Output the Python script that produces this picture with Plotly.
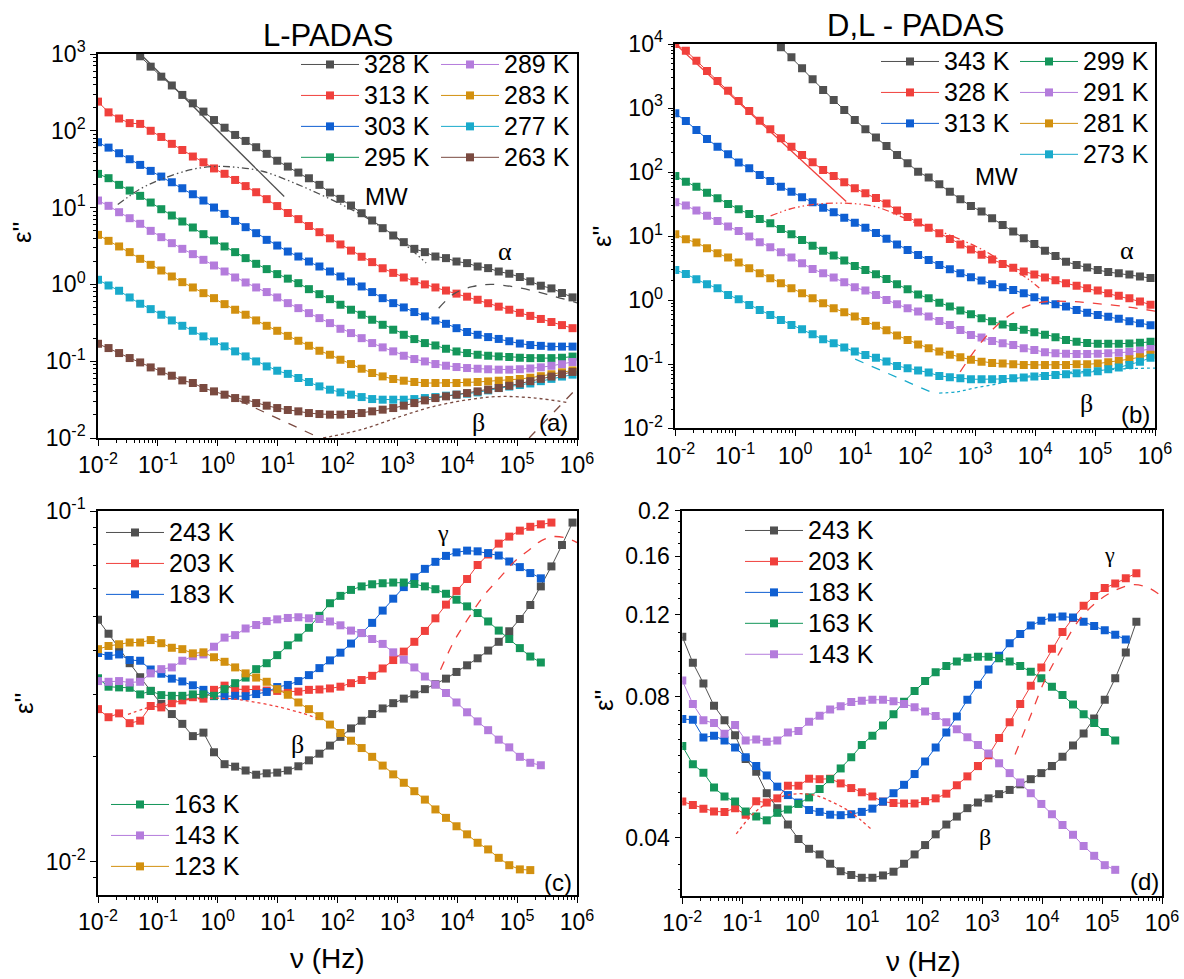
import plotly.graph_objects as go

W, H = 1184, 979
FONT = "Liberation Sans, Arial, sans-serif"
SERIF = "Liberation Serif, Times New Roman, serif"

# measurement frequencies (Hz)
FREQ = [0.01, 0.015, 0.0225, 0.0338, 0.0506, 0.0759, 0.114, 0.171, 0.256, 0.384,
        0.577, 0.865, 1.30, 1.95, 2.92, 4.38, 6.57, 9.85, 14.8, 22.2,
        33.3, 49.9, 74.8, 112, 168, 253, 379, 568, 852, 1280,
        1920, 2880, 4320, 6480, 9720, 14600, 21900, 32800, 49300, 73900,
        111000, 166000, 249000, 374000, 561000, 842000]

# ---------------- panel (a) L-PADAS : log10(eps'') ----------------
A_328 = [None] * 4 + [2.97, 2.835, 2.705, 2.59, 2.467, 2.358, 2.25, 2.14, 2.04, 1.946,
                      1.868, 1.786, 1.70, 1.61, 1.534, 1.456, 1.382, 1.296, 1.196, 1.114,
                      1.027, 0.927, 0.832, 0.732, 0.637, 0.55, 0.463, 0.42, 0.363, 0.342,
                      0.298, 0.277, 0.233, 0.212, 0.168, 0.139, 0.096, 0.04, -0.017, -0.052,
                      -0.112, -0.169]
A_313 = [2.38, 2.24, 2.16, 2.10, 2.09, 2.00, 1.92, 1.83, 1.75, 1.665,
         1.59, 1.51, 1.44, 1.36, 1.28, 1.20, 1.11, 1.02, 0.93, 0.85,
         0.76, 0.68, 0.60, 0.52, 0.44, 0.36, 0.29, 0.21, 0.15, 0.09,
         0.04, 0.0, -0.04, -0.08, -0.12, -0.16, -0.2, -0.245, -0.29, -0.33,
         -0.37, -0.41, -0.45, -0.49, -0.53, -0.57]
A_303 = [1.851, 1.781, 1.708, 1.63, 1.556, 1.478, 1.404, 1.33, 1.252, 1.174,
         1.092, 1.001, 0.918, 0.827, 0.745, 0.667, 0.58, 0.506, 0.428, 0.363,
         0.298, 0.233, 0.168, 0.103, 0.038, -0.027, -0.1, -0.179, -0.244, -0.30,
         -0.36, -0.417, -0.47, -0.513, -0.57, -0.62, -0.656, -0.686, -0.71, -0.74,
         -0.77, -0.79, -0.80, -0.81, -0.81, -0.81]
A_295 = [1.439, 1.383, 1.296, 1.222, 1.153, 1.066, 0.979, 0.897, 0.819, 0.741,
         0.654, 0.572, 0.494, 0.42, 0.342, 0.268, 0.199, 0.134, 0.075, 0.016,
         -0.062, -0.127, -0.192, -0.265, -0.33, -0.395, -0.46, -0.526, -0.59, -0.656,
         -0.712, -0.764, -0.795, -0.838, -0.873, -0.894, -0.916, -0.929, -0.938, -0.945,
         -0.955, -0.96, -0.96, -0.96, -0.955, -0.94]
A_289 = [1.092, 1.023, 0.94, 0.862, 0.789, 0.697, 0.615, 0.537, 0.463, 0.394,
         0.32, 0.246, 0.168, 0.09, 0.025, -0.04, -0.1, -0.17, -0.244, -0.309,
         -0.374, -0.439, -0.504, -0.578, -0.634, -0.7, -0.764, -0.82, -0.872, -0.929,
         -0.972, -1.003, -1.037, -1.059, -1.076, -1.089, -1.098, -1.105, -1.11, -1.11,
         -1.105, -1.095, -1.08, -1.06, -1.04, -1.01]
A_283 = [0.645, 0.567, 0.494, 0.42, 0.333, 0.255, 0.181, 0.103, 0.029, -0.04,
         -0.114, -0.179, -0.257, -0.33, -0.395, -0.469, -0.539, -0.604, -0.67, -0.734,
         -0.799, -0.864, -0.916, -0.981, -1.037, -1.098, -1.154, -1.198, -1.232, -1.254,
         -1.271, -1.284, -1.284, -1.284, -1.284, -1.276, -1.271, -1.263, -1.254, -1.245,
         -1.232, -1.215, -1.195, -1.17, -1.145, -1.12]
A_277 = [0.06, -0.014, -0.083, -0.17, -0.252, -0.322, -0.395, -0.469, -0.539, -0.604,
         -0.677, -0.742, -0.807, -0.872, -0.938, -1.003, -1.068, -1.124, -1.165, -1.219,
         -1.271, -1.328, -1.371, -1.406, -1.436, -1.467, -1.493, -1.501, -1.501, -1.501,
         -1.493, -1.48, -1.467, -1.449, -1.436, -1.423, -1.406, -1.38, -1.35, -1.33,
         -1.31, -1.29, -1.26, -1.23, -1.2, -1.175]
A_263 = [-0.773, -0.829, -0.894, -0.959, -1.016, -1.081, -1.133, -1.189, -1.25, -1.284,
         -1.349, -1.393, -1.436, -1.48, -1.501, -1.545, -1.579, -1.61, -1.635, -1.653,
         -1.675, -1.688, -1.696, -1.696, -1.688, -1.675, -1.653, -1.631, -1.61, -1.579,
         -1.545, -1.51, -1.48, -1.458, -1.436, -1.415, -1.393, -1.371, -1.349, -1.32,
         -1.29, -1.26, -1.23, -1.20, -1.17, -1.14]

# ---------------- panel (b) D,L-PADAS ----------------
B_343 = [None] * 10 + [3.948, 3.792, 3.62, 3.448, 3.282, 3.126, 2.97, 2.814, 2.668, 2.54,
                       2.408, 2.267, 2.137, 2.007, 1.914, 1.81, 1.695, 1.575, 1.471, 1.383,
                       1.279, 1.175, 1.071, 0.967, 0.878, 0.774, 0.691, 0.602, 0.55, 0.509,
                       0.47, 0.44, 0.42, 0.40, 0.37, 0.345]
B_328 = [4.0, 3.896, 3.74, 3.579, 3.422, 3.272, 3.11, 2.954, 2.803, 2.668,
         2.528, 2.397, 2.267, 2.153, 2.033, 1.94, 1.841, 1.747, 1.669, 1.595,
         1.51, 1.40, 1.30, 1.215, 1.13, 1.045, 0.955, 0.87, 0.79, 0.71,
         0.635, 0.565, 0.505, 0.45, 0.40, 0.355, 0.31, 0.265, 0.225, 0.185,
         0.15, 0.11, 0.07, 0.03, -0.02, -0.07]
B_313 = [2.918, 2.798, 2.658, 2.517, 2.397, 2.278, 2.148, 2.059, 1.955, 1.862,
         1.773, 1.695, 1.607, 1.529, 1.445, 1.373, 1.289, 1.211, 1.133, 1.05,
         0.96, 0.87, 0.785, 0.707, 0.628, 0.55, 0.483, 0.42, 0.358, 0.306,
         0.249, 0.202, 0.16, 0.108, 0.046, -0.006, -0.063, -0.1, -0.152, -0.194,
         -0.23, -0.26, -0.29, -0.33, -0.36, -0.39]
B_299 = [1.94, 1.851, 1.773, 1.679, 1.591, 1.503, 1.419, 1.347, 1.268, 1.201,
         1.112, 1.029, 0.941, 0.852, 0.774, 0.696, 0.618, 0.535, 0.472, 0.405,
         0.33, 0.25, 0.17, 0.09, 0.03, -0.04, -0.10, -0.16, -0.22, -0.28,
         -0.33, -0.38, -0.42, -0.46, -0.50, -0.54, -0.58, -0.62, -0.65, -0.67,
         -0.68, -0.68, -0.68, -0.675, -0.665, -0.65]
B_291 = [1.529, 1.477, 1.399, 1.32, 1.237, 1.149, 1.081, 0.993, 0.904, 0.826,
         0.748, 0.665, 0.576, 0.488, 0.42, 0.353, 0.28, 0.202, 0.15, 0.08,
         0.004, -0.063, -0.126, -0.178, -0.256, -0.324, -0.386, -0.464, -0.542, -0.584,
         -0.636, -0.672, -0.698, -0.75, -0.776, -0.813, -0.828, -0.835, -0.839, -0.839,
         -0.835, -0.83, -0.82, -0.81, -0.79, -0.76]
B_281 = [1.029, 0.951, 0.899, 0.811, 0.733, 0.665, 0.587, 0.498, 0.42, 0.342,
         0.264, 0.186, 0.108, 0.03, -0.048, -0.126, -0.188, -0.256, -0.324, -0.40,
         -0.47, -0.55, -0.62, -0.69, -0.75, -0.80, -0.85, -0.89, -0.93, -0.96,
         -0.98, -0.99, -1.0, -1.01, -1.01, -1.01, -1.01, -1.01, -1.0, -1.0,
         -0.99, -0.97, -0.95, -0.92, -0.89, -0.85]
B_273 = [0.472, 0.41, 0.327, 0.249, 0.186, 0.082, 0.015, -0.074, -0.152, -0.23,
         -0.308, -0.386, -0.454, -0.532, -0.61, -0.672, -0.74, -0.802, -0.854, -0.90,
         -0.958, -1.026, -1.062, -1.099, -1.13, -1.182, -1.203, -1.219, -1.234, -1.234,
         -1.234, -1.23, -1.22, -1.205, -1.193, -1.182, -1.167, -1.156, -1.14, -1.13,
         -1.11, -1.08, -1.05, -1.01, -0.96, -0.90]

# ---------------- panel (c) L-PADAS low T ----------------
C_243 = [-1.31, -1.35, -1.391, -1.434, -1.474, -1.513, -1.55, -1.579, -1.607, -1.642,
         -1.632, -1.688, -1.722, -1.729, -1.74, -1.752, -1.748, -1.746, -1.74, -1.728,
         -1.711, -1.692, -1.669, -1.644, -1.62, -1.598, -1.579, -1.563, -1.548, -1.535,
         -1.523, -1.508, -1.494, -1.478, -1.459, -1.44, -1.42, -1.398, -1.373, -1.343,
         -1.308, -1.268, -1.215, -1.158, -1.097, -1.033]
C_203 = [-1.565, -1.588, -1.577, -1.605, -1.598, -1.556, -1.56, -1.548, -1.54, -1.531,
         -1.535, -1.51, -1.498, -1.508, -1.509, -1.509, -1.512, -1.513, -1.515, -1.515,
         -1.51, -1.509, -1.506, -1.501, -1.491, -1.482, -1.47, -1.449, -1.425, -1.401,
         -1.373, -1.342, -1.306, -1.267, -1.228, -1.194, -1.154, -1.124, -1.093, -1.073,
         -1.056, -1.045, -1.038, -1.033, None, None]
C_183 = [-1.405, -1.413, -1.409, -1.425, -1.427, -1.452, -1.464, -1.478, -1.486, -1.497,
         -1.51, -1.528, -1.528, -1.527, -1.528, -1.522, -1.516, -1.502, -1.496, -1.485,
         -1.468, -1.448, -1.426, -1.404, -1.378, -1.348, -1.319, -1.284, -1.25, -1.217,
         -1.189, -1.165, -1.145, -1.128, -1.118, -1.113, -1.115, -1.12, -1.127, -1.144,
         -1.16, -1.177, -1.192, None, None, None]
C_163 = [-1.477, -1.501, -1.503, -1.504, -1.523, -1.513, -1.525, -1.527, -1.527, -1.523,
         -1.523, -1.527, -1.508, -1.491, -1.475, -1.451, -1.434, -1.411, -1.383, -1.361,
         -1.333, -1.299, -1.263, -1.242, -1.225, -1.215, -1.209, -1.206, -1.204, -1.204,
         -1.208, -1.215, -1.223, -1.236, -1.253, -1.272, -1.291, -1.315, -1.341, -1.365,
         -1.391, -1.415, -1.432, None, None, None]
C_143 = [-1.485, -1.487, -1.485, -1.489, -1.487, -1.463, -1.451, -1.446, -1.427, -1.414,
         -1.409, -1.387, -1.361, -1.354, -1.335, -1.325, -1.314, -1.309, -1.305, -1.303,
         -1.306, -1.308, -1.315, -1.326, -1.341, -1.348, -1.365, -1.379, -1.403, -1.424,
         -1.446, -1.472, -1.495, -1.519, -1.546, -1.574, -1.6, -1.625, -1.652, -1.674,
         -1.701, -1.718, -1.725, None, None, None]
C_123 = [-1.394, -1.385, -1.38, -1.375, -1.375, -1.368, -1.377, -1.39, -1.394, -1.406,
         -1.403, -1.417, -1.43, -1.446, -1.463, -1.475, -1.487, -1.508, -1.524, -1.546,
         -1.565, -1.585, -1.609, -1.633, -1.655, -1.676, -1.701, -1.726, -1.751, -1.775,
         -1.799, -1.823, -1.851, -1.875, -1.899, -1.922, -1.946, -1.965, -1.989, -2.01,
         -2.022, -2.024, None, None, None, None]

# ---------------- panel (d) D,L-PADAS low T ----------------
D_243 = [-0.968, -1.024, -1.068, -1.116, -1.147, -1.179, -1.23, -1.257, -1.303, -1.335,
         -1.37, -1.401, -1.422, -1.434, -1.454, -1.47, -1.478, -1.484, -1.484, -1.479,
         -1.471, -1.454, -1.434, -1.414, -1.391, -1.37, -1.353, -1.335, -1.323, -1.314,
         -1.305, -1.296, -1.284, -1.273, -1.26, -1.245, -1.225, -1.201, -1.175, -1.143,
         -1.103, -1.057, -1.002, -0.936, None, None]
D_203 = [-1.321, -1.328, -1.336, -1.342, -1.343, -1.335, -1.349, -1.32, -1.323, -1.314,
         -1.287, -1.287, -1.272, -1.273, -1.272, -1.282, -1.292, -1.301, -1.31, -1.321,
         -1.324, -1.325, -1.325, -1.32, -1.314, -1.304, -1.286, -1.267, -1.245, -1.222,
         -1.185, -1.151, -1.112, -1.073, -1.034, -0.994, -0.958, -0.928, -0.902, -0.881,
         -0.864, -0.854, -0.843, -0.832, None, None]
D_183 = [-1.144, -1.146, -1.184, -1.18, -1.19, -1.205, -1.226, -1.245, -1.265, -1.289,
         -1.307, -1.323, -1.339, -1.343, -1.349, -1.35, -1.348, -1.343, -1.336, -1.321,
         -1.303, -1.285, -1.262, -1.235, -1.205, -1.173, -1.139, -1.103, -1.071, -1.038,
         -1.009, -0.982, -0.962, -0.944, -0.934, -0.927, -0.925, -0.927, -0.936, -0.945,
         -0.954, -0.964, -0.974, None, None, None]
D_163 = [-1.202, -1.241, -1.259, -1.291, -1.31, -1.321, -1.342, -1.353, -1.361, -1.345,
         -1.338, -1.326, -1.312, -1.294, -1.273, -1.25, -1.226, -1.2, -1.18, -1.158,
         -1.134, -1.107, -1.084, -1.063, -1.044, -1.031, -1.021, -1.013, -1.011, -1.011,
         -1.014, -1.021, -1.031, -1.043, -1.057, -1.075, -1.093, -1.113, -1.134, -1.153,
         -1.172, -1.19, None, None, None, None]
D_143 = [-1.062, -1.112, -1.147, -1.153, -1.176, -1.157, -1.19, -1.188, -1.193, -1.19,
         -1.173, -1.17, -1.15, -1.137, -1.124, -1.117, -1.108, -1.105, -1.103, -1.103,
         -1.106, -1.112, -1.119, -1.128, -1.138, -1.151, -1.166, -1.183, -1.2, -1.218,
         -1.239, -1.26, -1.28, -1.303, -1.326, -1.348, -1.371, -1.392, -1.416, -1.437,
         -1.457, -1.467, None, None, None, None]

# ---------------- fit curves (log10 f, log10 eps'') ----------------
FA_LINE_F, FA_LINE_E = [-1.28, 1.11], [2.99, 1.145]
FA_MW_F = [-1.67, -1.3, -0.97, -0.47, -0.08, 0.31, 0.76, 1.26, 1.8, 2.4, 3.0, 3.48]
FA_MW_E = [1.04, 1.24, 1.36, 1.49, 1.534, 1.525, 1.47, 1.326, 1.14, 0.905, 0.60, 0.28]
FA_AL_F = [3.69, 3.95, 4.25, 4.56, 5.0, 5.5, 6.0]
FA_AL_E = [-0.31, -0.12, -0.03, 0.0, -0.04, -0.13, -0.24]
FA_CD_F, FA_CD_E = [0.09, 1.72], [-1.415, -2.005]
FA_BE_F = [1.76, 2.4, 3.05, 3.6, 4.2, 4.7, 5.3, 5.85]
FA_BE_E = [-2.0, -1.89, -1.72, -1.59, -1.5, -1.46, -1.48, -1.54]
FA_GA_F, FA_GA_E = [5.2, 6.0], [-2.0, -1.35]

FB_LINE_F, FB_LINE_E = [-2.0, 0.85], [4.0, 1.54]
FB_MW_F = [-0.41, -0.1, 0.32, 0.8, 1.34, 1.96, 2.62, 3.18, 3.57, 3.9, 4.07]
FB_MW_E = [1.315, 1.42, 1.497, 1.515, 1.46, 1.227, 1.0, 0.76, 0.52, 0.32, 0.19]
FB_AL_F = [2.75, 3.0, 3.3, 3.6, 3.9, 4.2, 4.6, 5.0, 5.5, 6.0]
FB_AL_E = [-1.12, -0.78, -0.45, -0.22, -0.08, -0.02, -0.02, -0.05, -0.1, -0.17]
FB_CD_F, FB_CD_E = [1.0, 2.3], [-0.92, -1.45]
FB_BE_F = [2.4, 2.7, 3.0, 3.4, 3.8, 4.4, 5.0, 5.5, 6.0]
FB_BE_E = [-1.45, -1.43, -1.37, -1.3, -1.2, -1.14, -1.1, -1.07, -1.06]

FC_GA_F = [3.72, 3.95, 4.17, 4.45, 4.68, 4.95, 5.2, 5.4, 5.6, 5.84, 6.0]
FC_GA_E = [-1.453, -1.37, -1.31, -1.24, -1.196, -1.145, -1.111, -1.085, -1.073, -1.078, -1.09]
FC_BE_F = [-1.5, -1.25, -0.8, -0.3, 0.2, 0.55, 1.0, 1.4, 1.65]
FC_BE_E = [-1.58, -1.565, -1.545, -1.535, -1.535, -1.543, -1.558, -1.576, -1.59]

FD_GA_F = [3.55, 3.8, 4.05, 4.3, 4.6, 4.9, 5.2, 5.5, 5.75, 6.0]
FD_GA_E = [-1.22, -1.14, -1.06, -1.0, -0.935, -0.895, -0.87, -0.857, -0.862, -0.882]
FD_BE_F = [-1.1, -0.8, -0.5, -0.15, 0.2, 0.5, 0.8, 1.15]
FD_BE_E = [-1.39, -1.345, -1.318, -1.305, -1.307, -1.322, -1.343, -1.38]

GRAY, RED, BLUE, GREEN = "#505050", "#F0403C", "#0F5FD2", "#14965A"
PURPLE, ORANGE, CYAN, BROWN = "#B47CDC", "#D2900F", "#19AACB", "#7A4A40"

fig = go.Figure()


def pw(vals):
    return [None if v is None else 10 ** v for v in vals]


def series(name, vals, color, ax, leg):
    fig.add_trace(go.Scatter(
        x=FREQ, y=pw(vals), mode="lines+markers",
        name='<span style="font-size:25px">%s</span>' % name,
        line=dict(color=color, width=1),
        marker=dict(symbol="square", size=8, color=color, line=dict(width=0)),
        xaxis="x" + ax, yaxis="y" + ax, legend=leg))


def fit(lf, le, color, dash, ax):
    fig.add_trace(go.Scatter(
        x=pw(lf), y=pw(le), mode="lines", showlegend=False, hoverinfo="skip",
        line=dict(color=color, width=1.3, dash=dash, shape="spline"),
        xaxis="x" + ax, yaxis="y" + ax))


DDOT = "7px,3px,1.5px,3px,1.5px,3px"

# panel a
for nm, v, c in [("328 K", A_328, GRAY), ("313 K", A_313, RED), ("303 K", A_303, BLUE), ("295 K", A_295, GREEN)]:
    series(nm, v, c, "", "legend")
for nm, v, c in [("289 K", A_289, PURPLE), ("283 K", A_283, ORANGE), ("277 K", A_277, CYAN), ("263 K", A_263, BROWN)]:
    series(nm, v, c, "", "legend2")
fit(FA_LINE_F, FA_LINE_E, GRAY, "solid", "")
fit(FA_MW_F, FA_MW_E, GRAY, DDOT, "")
fit(FA_AL_F, FA_AL_E, GRAY, "dash", "")
fit(FA_CD_F, FA_CD_E, BROWN, "dash", "")
fit(FA_BE_F, FA_BE_E, BROWN, "dot", "")
fit(FA_GA_F, FA_GA_E, BROWN, "dash", "")

# panel b
for nm, v, c in [("343 K", B_343, GRAY), ("328 K", B_328, RED), ("313 K", B_313, BLUE)]:
    series(nm, v, c, "2", "legend3")
for nm, v, c in [("299 K", B_299, GREEN), ("291 K", B_291, PURPLE), ("281 K", B_281, ORANGE), ("273 K", B_273, CYAN)]:
    series(nm, v, c, "2", "legend4")
fit(FB_LINE_F, FB_LINE_E, RED, "solid", "2")
fit(FB_MW_F, FB_MW_E, RED, DDOT, "2")
fit(FB_AL_F, FB_AL_E, RED, "dash", "2")
fit(FB_CD_F, FB_CD_E, CYAN, "dash", "2")
fit(FB_BE_F, FB_BE_E, CYAN, "dot", "2")

# panel c
for nm, v, c in [("243 K", C_243, GRAY), ("203 K", C_203, RED), ("183 K", C_183, BLUE)]:
    series(nm, v, c, "3", "legend5")
for nm, v, c in [("163 K", C_163, GREEN), ("143 K", C_143, PURPLE), ("123 K", C_123, ORANGE)]:
    series(nm, v, c, "3", "legend6")
fit(FC_GA_F, FC_GA_E, RED, "dash", "3")
fit(FC_BE_F, FC_BE_E, RED, "dot", "3")

# panel d
for nm, v, c in [("243 K", D_243, GRAY), ("203 K", D_203, RED), ("183 K", D_183, BLUE),
                 ("163 K", D_163, GREEN), ("143 K", D_143, PURPLE)]:
    series(nm, v, c, "4", "legend7")
fit(FD_GA_F, FD_GA_E, RED, "dash", "4")
fit(FD_BE_F, FD_BE_E, RED, "dot", "4")


def sup(e):
    return "10<sup>%d</sup>" % e


XT = [10.0 ** e for e in range(-2, 7)]
XM = [m * 10.0 ** e for e in range(-2, 6) for m in range(2, 10)]


def axis_common(**kw):
    d = dict(type="log", showline=True, linecolor="black", linewidth=1.6, mirror=True,
             ticks="outside", ticklen=6, tickwidth=1.3, tickcolor="black", automargin=False,
             showgrid=False, zeroline=False, tickmode="array",
             tickfont=dict(family=FONT, size=23, color="black"))
    d.update(kw)
    return d


def xax(dom, anchor):
    return axis_common(domain=dom, anchor=anchor, range=[-2, 6], tickvals=XT,
                       ticktext=[sup(e) for e in range(-2, 7)],
                       minor=dict(tickmode="array", tickvals=XM, ticks="outside", ticklen=3,
                                  tickcolor="black", tickwidth=1, showgrid=False))


def yax_dec(dom, anchor, lo, hi, rng):
    tv = [10.0 ** e for e in range(lo, hi + 1)]
    mv = [m * 10.0 ** e for e in range(lo - 1, hi) for m in range(2, 10)]
    return axis_common(domain=dom, anchor=anchor, range=rng, tickvals=tv,
                       ticktext=[sup(e) for e in range(lo, hi + 1)],
                       minor=dict(tickmode="array", tickvals=mv, ticks="outside", ticklen=3,
                                  tickcolor="black", tickwidth=1, showgrid=False))


DX_L = [98 / W, 577 / W]
fig.update_layout(
    xaxis=xax(DX_L, "y"),
    yaxis=yax_dec([1 - 438 / H, 1 - 54 / H], "x", -2, 3, [-2, 3]),
    xaxis2=xax([675.3 / W, 1155 / W], "y2"),
    yaxis2=yax_dec([1 - 428.3 / H, 1 - 44 / H], "x2", -2, 4, [-2, 4]),
    xaxis3=xax(DX_L, "y3"),
    yaxis3=yax_dec([1 - 895 / H, 1 - 511 / H], "x3", -2, -1, [-2.095, -1]),
    xaxis4=xax([682.3 / W, 1162 / W], "y4"),
    yaxis4=axis_common(domain=[1 - 896 / H, 1 - 511 / H], anchor="x4", range=[-1.523, -0.699],
                       tickvals=[0.04, 0.08, 0.12, 0.16, 0.2],
                       ticktext=["0.04", "0.08", "0.12", "0.16", "0.2"],
                       minor=dict(tickmode="array",
                                  tickvals=[0.031, 0.035, 0.045, 0.05, 0.055, 0.06, 0.065, 0.07, 0.075,
                                            0.09, 0.1, 0.11, 0.13, 0.14, 0.15, 0.17, 0.18, 0.19],
                                  ticks="outside", ticklen=3, tickcolor="black", tickwidth=1,
                                  showgrid=False)),
)


def leg(xp, tp):
    return dict(x=xp / W, y=1 - tp / H, xanchor="left", yanchor="top",
                bgcolor="rgba(0,0,0,0)", borderwidth=0, itemwidth=58, tracegroupgap=0,
                font=dict(family=FONT, size=21.5, color="black"))


fig.update_layout(
    legend=leg(296, 44), legend2=leg(436, 44),
    legend3=leg(876, 41), legend4=leg(1015, 41),
    legend5=leg(101, 512), legend6=leg(106, 784),
    legend7=leg(740, 510),
)

ann = []


def txt(s, x, y, ref, size=24, fam=FONT, angle=0):
    if ref == "paper":
        ann.append(dict(text=s, x=x / W, y=1 - y / H, xref="paper", yref="paper", showarrow=False,
                        xanchor="center", yanchor="middle",
                        textangle=angle, font=dict(family=fam, size=size, color="black")))
    else:
        ann.append(dict(text=s, x=x, y=y, xref="x" + ref, yref="y" + ref, showarrow=False,
                        xanchor="center", yanchor="middle",
                        font=dict(family=fam, size=size, color="black")))


txt("L-PADAS", 328, 35, "paper", size=31)
txt("D,L - PADAS", 915, 26, "paper", size=31)
for (px, py) in [(22, 232), (602, 236), (24, 703), (604, 700)]:
    txt("ε''", px, py, "paper", size=26, angle=-90)
txt("ν (Hz)", 327, 958, "paper", size=28)
txt("ν (Hz)", 923, 961, "paper", size=28)

txt("MW", 2.82, 1.145, "", 24)
txt("α", 4.8, 0.43, "", 26, SERIF)
txt("β", 4.36, -1.8, "", 26, SERIF)
txt("(a)", 5.61, -1.8, "", 24)
txt("MW", 3.36, 1.93, "2", 24)
txt("α", 5.54, 0.78, "2", 26, SERIF)
txt("β", 4.85, -1.61, "2", 26, SERIF)
txt("(b)", 5.68, -1.78, "2", 24)
txt("γ", 3.77, -1.064, "3", 24, SERIF)
txt("β", 1.34, -1.666, "3", 26, SERIF)
txt("(c)", 5.68, -2.06, "3", 24)
txt("γ", 5.12, -0.793, "4", 22, SERIF)
txt("β", 3.05, -1.396, "4", 24, SERIF)
txt("(d)", 5.7, -1.492, "4", 24)

fig.update_layout(annotations=ann, width=W, height=H, margin=dict(l=0, r=0, t=0, b=0),
                  paper_bgcolor="white", plot_bgcolor="white",
                  font=dict(family=FONT, color="black"))

fig.write_html("out.html")
